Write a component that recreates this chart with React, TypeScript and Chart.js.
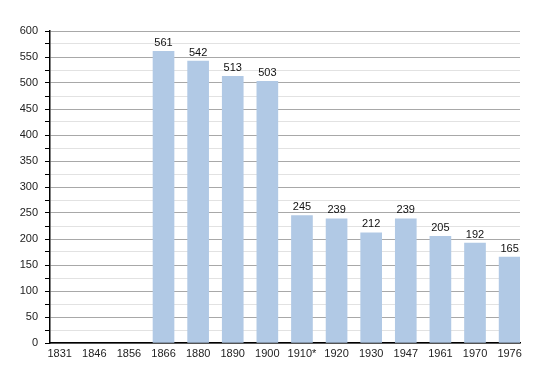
import React, { useEffect, useRef } from "react";
import { Chart, registerables } from "chart.js";

Chart.register(...registerables);

const categories = ["1831", "1846", "1856", "1866", "1880", "1890", "1900", "1910*", "1920", "1930", "1947", "1961", "1970", "1976"];
const values: (number | null)[] = [null, null, null, 561, 542, 513, 503, 245, 239, 212, 239, 205, 192, 165];
const yTicks = { min: 0, max: 600, step: 25, labelStep: 50 };

const FONT = "'Liberation Sans', Arial, sans-serif";

const labelPlugin = {
  id: "valueLabels",
  afterDatasetsDraw(chart: any) {
    const ctx = chart.ctx;
    const meta = chart.getDatasetMeta(0);
    ctx.save();
    ctx.font = `11px ${FONT}`;
    ctx.fillStyle = "#111";
    ctx.textAlign = "center";
    ctx.textBaseline = "bottom";
    meta.data.forEach((el: any, i: number) => {
      const v = values[i];
      if (v == null) return;
      ctx.fillText(String(v), el.x, el.y - 3);
    });
    ctx.restore();
  },
};

export default function App() {
  const ref = useRef<HTMLCanvasElement>(null);
  useEffect(() => {
    if (!ref.current) return;
    const chart = new Chart(ref.current, {
      type: "bar",
      data: {
        datasets: [
          {
            data: values.map((v, i) => ({ x: i, y: v })) as any,
            backgroundColor: "rgb(177,201,229)",
            barThickness: 21,
          },
        ],
      },
      plugins: [labelPlugin],
      options: {
        animation: false,
        responsive: false,
        maintainAspectRatio: false,
        layout: { padding: { top: 31, right: 30, left: 0, bottom: 0 } },
        plugins: { legend: { display: false }, tooltip: { enabled: false } },
        scales: {
          x: {
            type: "linear",
            min: -0.28,
            max: 13.3,
            offset: false,
            afterBuildTicks: (scale: any) => {
              scale.ticks = categories.map((_, i) => ({ value: i }));
            },
            afterFit: (scale: any) => {
              scale.height = 30;
            },
            grid: { display: false, drawTicks: false },
            border: { display: true, color: "#000", width: 1.5 },
            ticks: {
              autoSkip: false,
              maxRotation: 0,
              padding: 4,
              color: "#222",
              font: { family: FONT, size: 11 },
              callback: (v: any) => categories[v as number] ?? "",
            },
          },
          y: {
            min: yTicks.min,
            max: yTicks.max,
            afterFit: (scale: any) => {
              scale.width = 50;
            },
            grid: {
              color: (ctx: any) => (ctx.tick && ctx.tick.value % yTicks.labelStep === 0 ? "#a8a8a8" : "#e2e2e2"),
              tickColor: "#000",
              tickLength: 5,
              drawTicks: true,
            },
            border: { display: true, color: "#000", width: 1.5 },
            ticks: {
              stepSize: yTicks.step,
              autoSkip: false,
              padding: 7,
              color: "#222",
              font: { family: FONT, size: 11 },
              callback: (v: any) => ((v as number) % yTicks.labelStep === 0 ? String(v) : ""),
            },
          },
        },
      },
    });
    return () => chart.destroy();
  }, []);
  return (
    <div style={{ position: "fixed", left: 0, top: 0, width: 550, height: 373, background: "#fff" }}>
      <canvas ref={ref} width={550} height={373} style={{ width: 550, height: 373 }} />
    </div>
  );
}
